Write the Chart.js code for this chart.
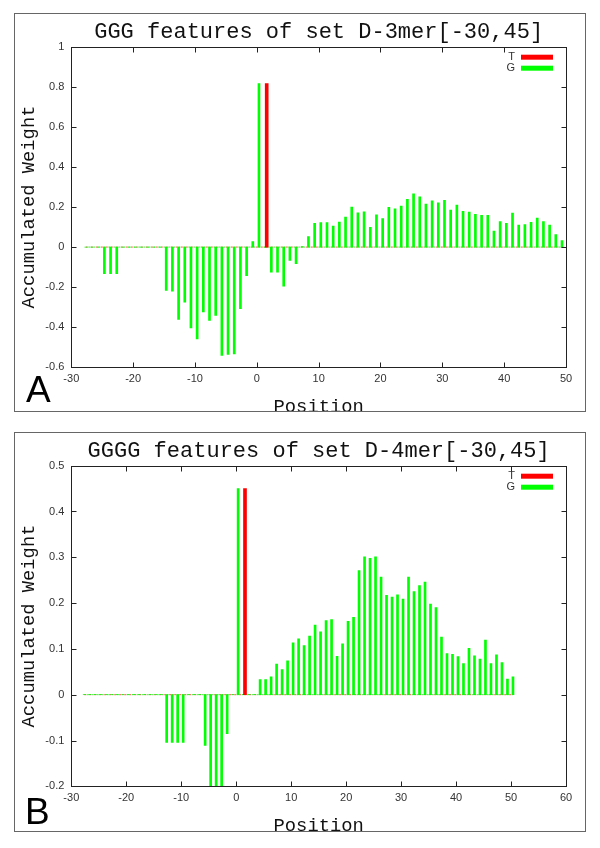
<!DOCTYPE html>
<html>
<head>
<meta charset="utf-8">
<script src="https://cdn.jsdelivr.net/npm/chart.js@4.4.1/dist/chart.umd.min.js"></script>
<style>
  body { margin: 0; background: #fff; width: 600px; height: 848px; position: relative; overflow: hidden; }
  .panel { position: absolute; left: 14px; width: 572px; border: 1px solid #666; box-sizing: border-box; overflow: hidden; background: #fff; }
  .panel canvas { position: absolute; left: -15px; top: -14px; }
  .tag { position: absolute; font: 37px/37px "Liberation Sans", Arial, sans-serif; color: #000; z-index: 2; }
</style>
</head>
<body>
<div class="panel" style="top:13px;height:399px"><canvas id="chartA" width="640" height="430"></canvas></div>
<div class="panel" style="top:432px;height:400px"><canvas id="chartB" width="640" height="430"></canvas></div>
<div class="tag" style="left:26px;top:371px">A</div>
<div class="tag" style="left:25px;top:793px">B</div>
<script>
// Panel A: GGG, positions -28..49
const startA = -28;
const gValuesA = [
  0, 0, 0, -0.133, -0.133, -0.133, 0, 0, 0, 0,
  0, 0, 0, -0.216, -0.22, -0.361, -0.275, -0.403, -0.458, -0.323,
  -0.366, -0.341, -0.541, -0.536, -0.533, -0.308, -0.143, 0.027, 0.816, 0,
  -0.125, -0.125, -0.195, -0.067, -0.083, 0.003, 0.052, 0.118, 0.122, 0.122,
  0.105, 0.125, 0.15, 0.2, 0.171, 0.176, 0.098, 0.161, 0.142, 0.198,
  0.191, 0.205, 0.238, 0.266, 0.251, 0.215, 0.231, 0.221, 0.233, 0.185,
  0.21, 0.178, 0.175, 0.163, 0.158, 0.158, 0.08, 0.127, 0.118, 0.17,
  0.11, 0.112, 0.123, 0.145, 0.127, 0.11, 0.062, 0.032
];
const tPosA = [1];
const tValuesA = [0.816];
const xRangeA = [-30, 50];
const yRangeA = [-0.6, 1];
const yStepA = 0.2;

// Panel B: GGGG, positions -28..50
const startB = -28;
const gValuesB = [
  0, 0, 0, 0, 0, 0, 0, 0, 0, 0,
  0, 0, 0, 0, 0, -0.104, -0.104, -0.104, -0.104, 0,
  0, 0, -0.111, -0.2, -0.2, -0.2, -0.085, 0, 0.45, 0,
  0, 0, 0.033, 0.033, 0.039, 0.067, 0.055, 0.074, 0.113, 0.122,
  0.107, 0.128, 0.152, 0.137, 0.162, 0.164, 0.084, 0.111, 0.16, 0.169,
  0.271, 0.301, 0.298, 0.301, 0.257, 0.217, 0.213, 0.218, 0.209, 0.257,
  0.225, 0.238, 0.246, 0.198, 0.19, 0.126, 0.09, 0.088, 0.083, 0.068,
  0.101, 0.085, 0.078, 0.119, 0.068, 0.087, 0.07, 0.034, 0.039
];
const tPosB = [1];
const tValuesB = [0.45];
const xRangeB = [-30, 60];
const yRangeB = [-0.2, 0.5];
const yStepB = 0.1;

const gShift = 0.35;   // gnuplot draws the impulses slightly right of the integer
const tShift = 0.6;
const mono = '"Liberation Mono", "Courier New", monospace';
const sans = '"Liberation Sans", Arial, sans-serif';

// inward mirrored ticks, box and key like gnuplot
const gnuplotFrame = {
  id: 'gnuplotFrame',
  afterDatasetsDraw(chart) {
    const { ctx, chartArea: a, scales: { x, y } } = chart;
    const L = Math.round(a.left) + 0.5, R = Math.round(a.right) + 0.5;
    const T = Math.round(a.top) + 0.5, B = Math.round(a.bottom) + 0.5;
    ctx.save();
    ctx.strokeStyle = '#222';
    ctx.lineWidth = 1;
    ctx.beginPath();
    x.ticks.forEach(t => {
      const px = Math.round(x.getPixelForValue(t.value)) + 0.5;
      ctx.moveTo(px, B); ctx.lineTo(px, B - 5);
      ctx.moveTo(px, T); ctx.lineTo(px, T + 5);
    });
    y.ticks.forEach(t => {
      const py = Math.round(y.getPixelForValue(t.value)) + 0.5;
      ctx.moveTo(L, py); ctx.lineTo(L + 5, py);
      ctx.moveTo(R, py); ctx.lineTo(R - 5, py);
    });
    ctx.stroke();
    ctx.strokeRect(L, T, R - L, B - T);

    // key
    const keys = chart.data.datasets.filter(d => d.key);
    ctx.font = '11px ' + sans;
    ctx.textAlign = 'right';
    ctx.textBaseline = 'middle';
    keys.forEach((d, i) => {
      const ky = a.top + 10.5 + i * 11;
      ctx.fillStyle = '#333';
      ctx.fillText(d.label, a.right - 51, ky);
      ctx.fillStyle = d.backgroundColor;
      ctx.fillRect(a.right - 45, ky - 2.5, 32, 5);
    });
    ctx.restore();
  }
};

function makeChart(id, title, start, gValues, tPos, tValues, xRange, yRange, yStep) {
  const positions = gValues.map((v, i) => start + i);
  const baseline = positions.map(p => ({ x: p + gShift, y: 0 }));
  return new Chart(document.getElementById(id), {
    type: 'bar',
    data: {
      datasets: [
        {
          label: 'T', key: true, order: 0, grouped: false, barThickness: 3,
          backgroundColor: '#ff0000',
          data: tPos.map((p, i) => ({ x: p + tShift, y: tValues[i] }))
        },
        {
          label: 'G', key: true, order: 0, grouped: false, barThickness: 2,
          backgroundColor: '#00ff00',
          data: positions.map((p, i) => ({ x: p + gShift, y: gValues[i] }))
        },
        {
          type: 'line', label: 'T0', order: 2, data: baseline,
          borderColor: '#ff5a4a', borderWidth: 1, borderDash: [2, 3], pointRadius: 0, fill: false
        },
        {
          type: 'line', label: 'G0', order: 2, data: baseline,
          borderColor: '#44ee44', borderWidth: 1, borderDash: [2, 3], borderDashOffset: 2.5, pointRadius: 0, fill: false
        }
      ]
    },
    options: {
      responsive: false,
      animation: false,
      devicePixelRatio: 1,
      layout: { padding: { left: 10, right: 74, top: 18.8, bottom: 11.7 } },
      plugins: {
        legend: { display: false },
        tooltip: { enabled: false },
        title: {
          display: true, text: title, fullSize: false, color: '#111',
          font: { family: mono, size: 22, weight: 'normal' },
          padding: { top: 0, bottom: 1.5 }
        }
      },
      scales: {
        x: {
          type: 'linear', min: xRange[0], max: xRange[1], offset: false,
          grid: { display: false, drawTicks: false }, border: { display: false },
          ticks: { stepSize: 10, padding: 5.4, color: '#333', maxRotation: 0, font: { family: sans, size: 11 } },
          title: { display: true, text: 'Position', color: '#111', padding: 0, font: { family: mono, size: 18.8 } },
          afterFit: s => { s.height = 51; }
        },
        y: {
          min: yRange[0], max: yRange[1],
          grid: { display: false, drawTicks: false }, border: { display: false },
          ticks: {
            stepSize: yStep, padding: 7, color: '#333', font: { family: sans, size: 11 },
            callback: v => String(Math.round(v * 10) / 10)
          },
          title: { display: true, text: 'Accumulated Weight', color: '#111', padding: { top: 7.5, bottom: 0 }, font: { family: mono, size: 18.8 } },
          afterFit: s => { s.width = 61.3; }
        }
      }
    },
    plugins: [gnuplotFrame]
  });
}

makeChart('chartA', 'GGG features of set D-3mer[-30,45]', startA, gValuesA, tPosA, tValuesA, xRangeA, yRangeA, yStepA);
makeChart('chartB', 'GGGG features of set D-4mer[-30,45]', startB, gValuesB, tPosB, tValuesB, xRangeB, yRangeB, yStepB);
</script>
</body>
</html>
